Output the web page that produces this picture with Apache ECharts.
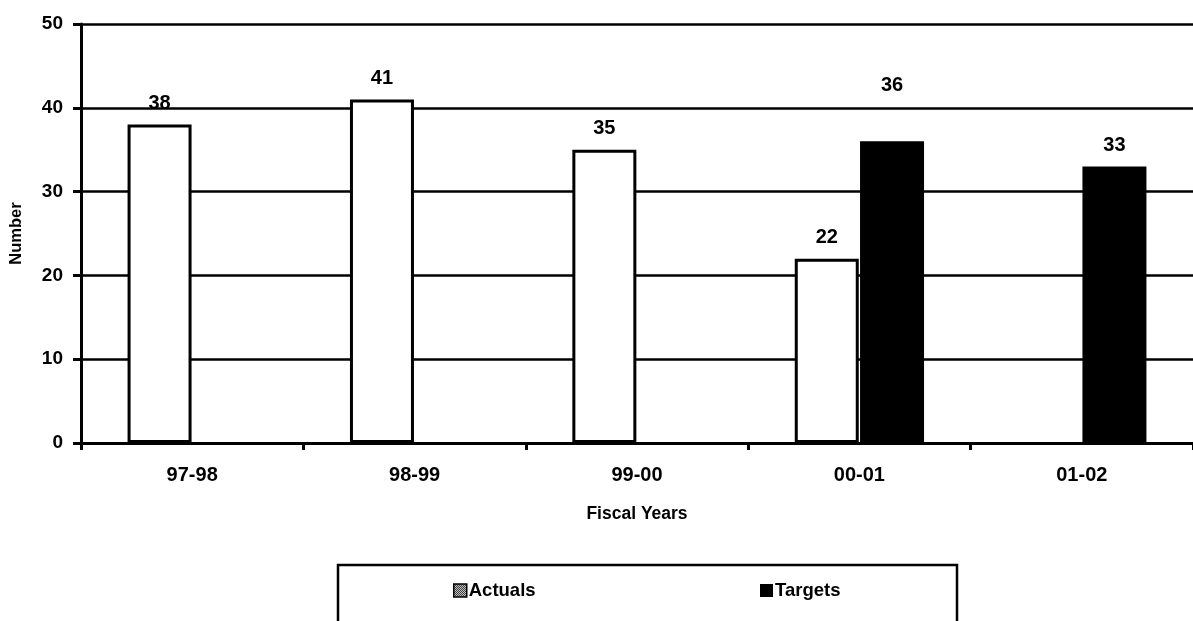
<!DOCTYPE html>
<html>
<head>
<meta charset="utf-8">
<style>
  html, body { margin: 0; padding: 0; background: #ffffff; }
  #chart { width: 1193px; height: 621px; }
</style>
<script src="https://cdn.jsdelivr.net/npm/echarts@6/dist/echarts.min.js"></script>
</head>
<body>
<div id="chart"></div>
<script>
// Fiscal years on the category axis
const fiscalYears = ['97-98', '98-99', '99-00', '00-01', '01-02'];
// Actual counts (no actual yet for 01-02)
const actuals = [38, 41, 35, 22, null];
// Target counts (set only for the last two years)
const targets = [null, null, null, 36, 33];
// Value axis ticks
const yTicks = [0, 10, 20, 30, 40, 50];

const FONT = '"Liberation Sans", Arial, Helvetica, sans-serif';

// Small checker swatch used for the "Actuals" legend key
function checkerPattern() {
  const c = document.createElement('canvas');
  c.width = 4; c.height = 4;
  const g = c.getContext('2d');
  g.fillStyle = '#ffffff';
  g.fillRect(0, 0, 4, 4);
  g.fillStyle = '#000000';
  g.fillRect(0, 0, 1, 1); g.fillRect(2, 0, 1, 1);
  g.fillRect(1, 1, 1, 1); g.fillRect(3, 1, 1, 1);
  g.fillRect(0, 2, 1, 1); g.fillRect(2, 2, 1, 1);
  g.fillRect(1, 3, 1, 1); g.fillRect(3, 3, 1, 1);
  return c;
}

const valueLabel = {
  show: true,
  position: 'top',
  distance: 11,
  color: '#000',
  fontFamily: FONT,
  fontWeight: 'bold',
  fontSize: 20
};

// The 00-01 target label sits higher above its bar
const targetData = targets.map((v, i) =>
  fiscalYears[i] === '00-01'
    ? { value: v, label: { offset: [0, -35] } }
    : v
);

const legendText = { color: '#000', fontFamily: FONT, fontWeight: 'bold', fontSize: 18.5, padding: [0, 0, 0, -3] };

const chart = echarts.init(document.getElementById('chart'), null, { renderer: 'canvas' });

chart.setOption({
  animation: false,
  backgroundColor: '#ffffff',
  grid: { left: 81, top: 24, width: 1115, bottom: 178, containLabel: false },
  xAxis: {
    type: 'category',
    data: fiscalYears,
    boundaryGap: true,
    name: 'Fiscal Years',
    nameLocation: 'middle',
    nameGap: 62,
    nameTextStyle: { color: '#000', fontFamily: FONT, fontWeight: 'bold', fontSize: 17.5 },
    axisLine: { show: true, lineStyle: { color: '#000', width: 3 } },
    axisTick: { show: true, length: 7, lineStyle: { color: '#000', width: 3 } },
    axisLabel: { color: '#000', fontFamily: FONT, fontWeight: 'bold', fontSize: 20, margin: 22 },
    splitLine: { show: false }
  },
  yAxis: {
    type: 'value',
    min: yTicks[0],
    max: yTicks[yTicks.length - 1],
    interval: yTicks[1] - yTicks[0],
    name: 'Number',
    nameLocation: 'middle',
    nameRotate: 90,
    nameGap: 56,
    nameTextStyle: { color: '#000', fontFamily: FONT, fontWeight: 'bold', fontSize: 16.5 },
    axisLine: { show: true, lineStyle: { color: '#000', width: 3 } },
    axisTick: { show: true, length: 8, lineStyle: { color: '#000', width: 3 } },
    axisLabel: { color: '#000', fontFamily: FONT, fontWeight: 'bold', fontSize: 19, margin: 18 },
    splitLine: { show: true, lineStyle: { color: '#000', width: 2.5 } }
  },
  legend: [
    {
      data: [{ name: 'Actuals', icon: 'rect', itemStyle: { color: { image: checkerPattern(), repeat: 'repeat' }, borderColor: '#000', borderWidth: 1.5 } }],
      left: 453, top: 581, padding: 0,
      itemWidth: 13, itemHeight: 13, itemGap: 0,
      textStyle: legendText,
      selectedMode: false
    },
    {
      data: [{ name: 'Targets', icon: 'rect', itemStyle: { color: '#000', borderWidth: 0 } }],
      left: 760, top: 581, padding: 0,
      itemWidth: 13, itemHeight: 13, itemGap: 0,
      textStyle: legendText,
      selectedMode: false
    }
  ],
  graphic: [
    {
      type: 'rect',
      shape: { x: 338, y: 565, width: 619, height: 80 },
      style: { fill: 'none', stroke: '#000', lineWidth: 2.5 },
      silent: true,
      z: 0
    }
  ],
  series: [
    {
      name: 'Actuals',
      type: 'bar',
      data: actuals,
      barWidth: 64,
      barGap: '2%',
      itemStyle: { color: '#ffffff', borderColor: '#000', borderWidth: 3 },
      label: valueLabel,
      z: 3
    },
    {
      name: 'Targets',
      type: 'bar',
      data: targetData,
      barWidth: 64,
      barGap: '2%',
      itemStyle: { color: '#000000', borderColor: '#000', borderWidth: 3 },
      label: valueLabel,
      z: 3
    }
  ]
});
</script>
</body>
</html>
